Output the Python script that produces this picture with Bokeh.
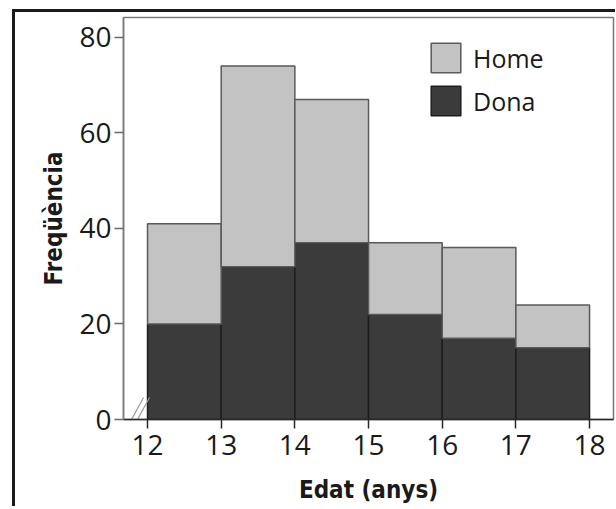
from bokeh.plotting import figure
from bokeh.models import Range1d, FixedTicker, Legend, LegendItem, ColumnDataSource
from bokeh.layouts import column
from bokeh.embed import file_html
from bokeh.resources import INLINE

# data
bin_left = [12, 13, 14, 15, 16, 17]
dona = [20, 32, 37, 22, 17, 15]
home = [21, 42, 30, 15, 19, 9]
x_ticks = [12, 13, 14, 15, 16, 17, 18]
y_ticks = [0, 20, 40, 60, 80]
series = ["Dona", "Home"]

centers = [b + 0.5 for b in bin_left]
src = ColumnDataSource(dict(x=centers, Dona=dona, Home=home))

p = figure(width=600, height=494, output_backend="svg", toolbar_location=None,
           x_range=Range1d(11.674, 18.325), y_range=Range1d(0, 84.18),
           min_border_left=108, min_border_top=5, min_border_right=2, min_border_bottom=86)
p.grid.visible = False
p.background_fill_color = "white"
p.border_fill_color = "white"
p.outline_line_color = "#7a7a7a"
p.outline_line_width = 1.5

rs = p.vbar_stack(series, x="x", width=1.0, source=src,
                  fill_color=["#3b3b3b", "#c3c3c3"],
                  line_color=["#1e1e1e", "#5a5a5a"], line_width=1.5)

# axis-break marks
p.segment(x0=[11.674, 11.755], y0=[-3.1, -3.1], x1=[11.946, 12.027], y1=[4.6, 4.6],
          line_color="#9a9a9a", line_width=1.2)

label_font = "Open Sans"
title_font = "DejaVu Sans Condensed"

p.xaxis.ticker = FixedTicker(ticks=x_ticks)
p.yaxis.ticker = FixedTicker(ticks=y_ticks)
for ax in (p.xaxis[0], p.yaxis[0]):
    ax.major_label_text_font = label_font
    ax.major_label_text_font_size = "28px"
    ax.major_label_text_color = "#1a1a1a"
    ax.minor_tick_line_color = None
    ax.major_tick_in = 0
    ax.major_tick_out = 9
    ax.axis_label_text_font = title_font
    ax.axis_label_text_font_style = "bold"
    ax.axis_label_text_font_size = "24px"
    ax.axis_label_text_color = "#1a1a1a"

p.xaxis.axis_line_color = "#2a2a2a"
p.xaxis.axis_line_width = 1.5
p.xaxis.major_tick_line_color = "#2a2a2a"
p.xaxis.major_tick_line_width = 1.5
p.xaxis.major_label_standoff = 6
p.xaxis.axis_label = "Edat (anys)"
p.xaxis.axis_label_standoff = 18

p.yaxis.axis_line_color = "#7a7a7a"
p.yaxis.axis_line_width = 1.5
p.yaxis.major_tick_line_color = "#6a6a6a"
p.yaxis.major_tick_line_width = 1.5
p.yaxis.major_label_standoff = 3
p.yaxis.axis_label = "Freqüència"
p.yaxis.axis_label_standoff = 8

legend = Legend(items=[LegendItem(label="Home", renderers=[rs[1]]),
                       LegendItem(label="Dona", renderers=[rs[0]])],
                location=(304, 300), orientation="vertical")
legend.glyph_width = 37
legend.glyph_height = 37
legend.label_height = 37
legend.spacing = 6
legend.padding = 0
legend.margin = 0
legend.label_standoff = 9
legend.label_text_font = label_font
legend.label_text_font_size = "25px"
legend.label_text_color = "#1a1a1a"
legend.border_line_color = None
legend.background_fill_alpha = 0
p.add_layout(legend, "center")

layout = column(p, styles={"border-left": "3px solid #1a1a1a",
                           "border-top": "3px solid #1a1a1a",
                           "margin-left": "12px", "margin-top": "9px"})

open("out.html", "w").write(file_html(layout, INLINE))
